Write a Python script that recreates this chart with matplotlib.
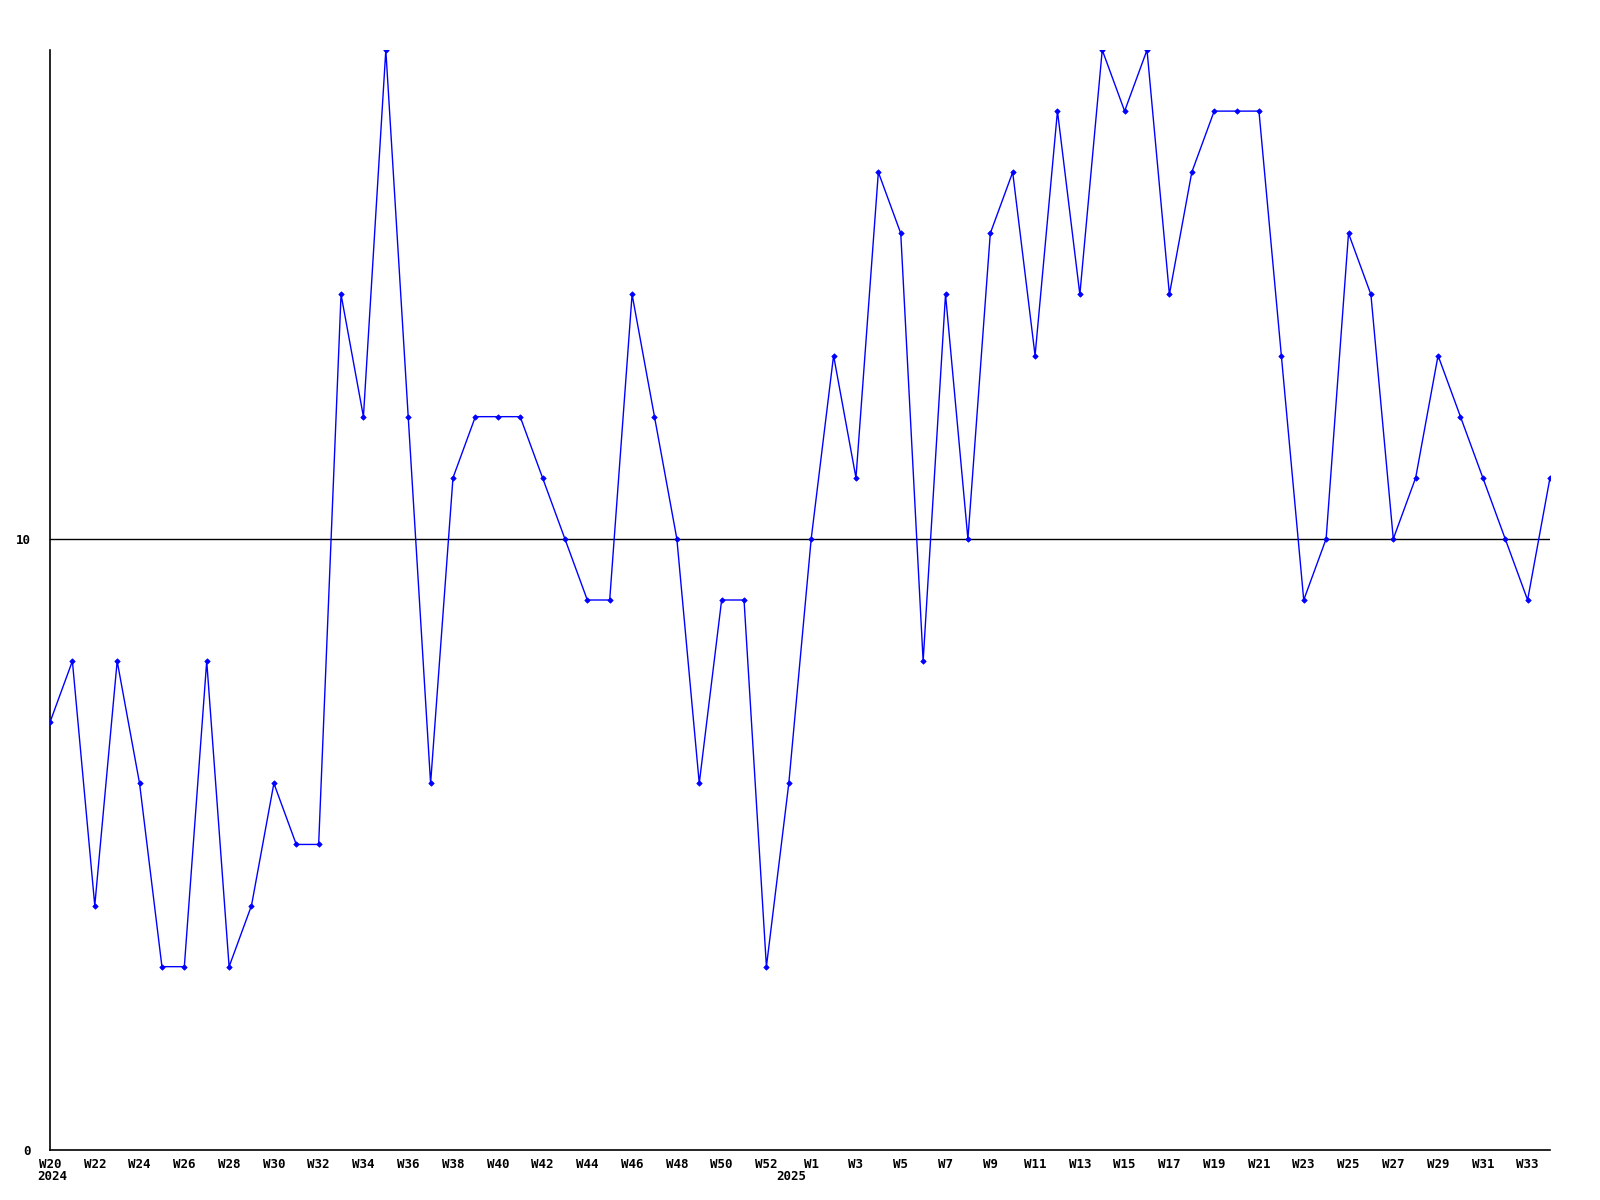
import matplotlib
matplotlib.use("Agg")
import matplotlib.pyplot as plt
import matplotlib.transforms as mtransforms

weeks_2024 = [f"W{w}" for w in range(20, 54)]
weeks_2025 = [f"W{w}" for w in range(1, 35)]
week_labels = weeks_2024 + weeks_2025

values = [7, 8, 4, 8, 6, 3, 3, 8, 3, 4, 6, 5, 5, 14, 12, 18, 12, 6, 11, 12,
          12, 12, 11, 10, 9, 9, 14, 12, 10, 6, 9, 9, 3, 6, 10, 13, 11, 16, 15, 8,
          14, 10, 15, 16, 13, 17, 14, 18, 17, 18, 14, 16, 17, 17, 17, 13, 9, 10, 15, 14,
          10, 11, 13, 12, 11, 10, 9, 11]

shown_ticks = ["W20", "W22", "W24", "W26", "W28", "W30", "W32", "W34", "W36", "W38",
               "W40", "W42", "W44", "W46", "W48", "W50", "W52",
               "W1", "W3", "W5", "W7", "W9", "W11", "W13", "W15", "W17", "W19",
               "W21", "W23", "W25", "W27", "W29", "W31", "W33"]
year_labels = ["2024", "2025"]
year_positions = [0, 33]
y_ticks = [0, 10]

fig = plt.figure(figsize=(16, 12), dpi=100)
ax = fig.add_axes([50 / 1600, 50 / 1200, 1500 / 1600, 1100 / 1200])

x = list(range(len(values)))
ax.plot(x, values, color=(0, 0, 1), lw=1.0, marker="D", markersize=2.8,
        markeredgewidth=0.5, zorder=3)
ax.axhline(10, color="black", lw=1.0, zorder=2)

ax.set_xlim(0, len(values) - 1)
ax.set_ylim(0, 18)
for s in ["top", "right"]:
    ax.spines[s].set_visible(False)
for s in ["left", "bottom"]:
    ax.spines[s].set_linewidth(1.2)
    ax.spines[s].set_color("black")

font = dict(family="DejaVu Sans Mono", fontweight="bold", fontsize=9)

tick_pos = []
tick_txt = []
for i, lab in enumerate(week_labels):
    if lab in shown_ticks and i % 2 == 0:
        tick_pos.append(i)
        tick_txt.append(lab)
ax.set_xticks(tick_pos)
ax.set_xticklabels(tick_txt, **font)
ax.tick_params(axis="x", length=0, pad=6)

ax.set_yticks(y_ticks)
ax.set_yticklabels([str(t) for t in y_ticks], **font)
ax.tick_params(axis="y", length=0, pad=14)

trans = mtransforms.blended_transform_factory(ax.transData, ax.transAxes)
for lab, pos in zip(year_labels, year_positions):
    ax.text(pos + 0.12, -27 / 1100, lab, transform=trans, ha="center", va="center", **font)

fig.savefig("out.png", dpi=100, facecolor="white")
